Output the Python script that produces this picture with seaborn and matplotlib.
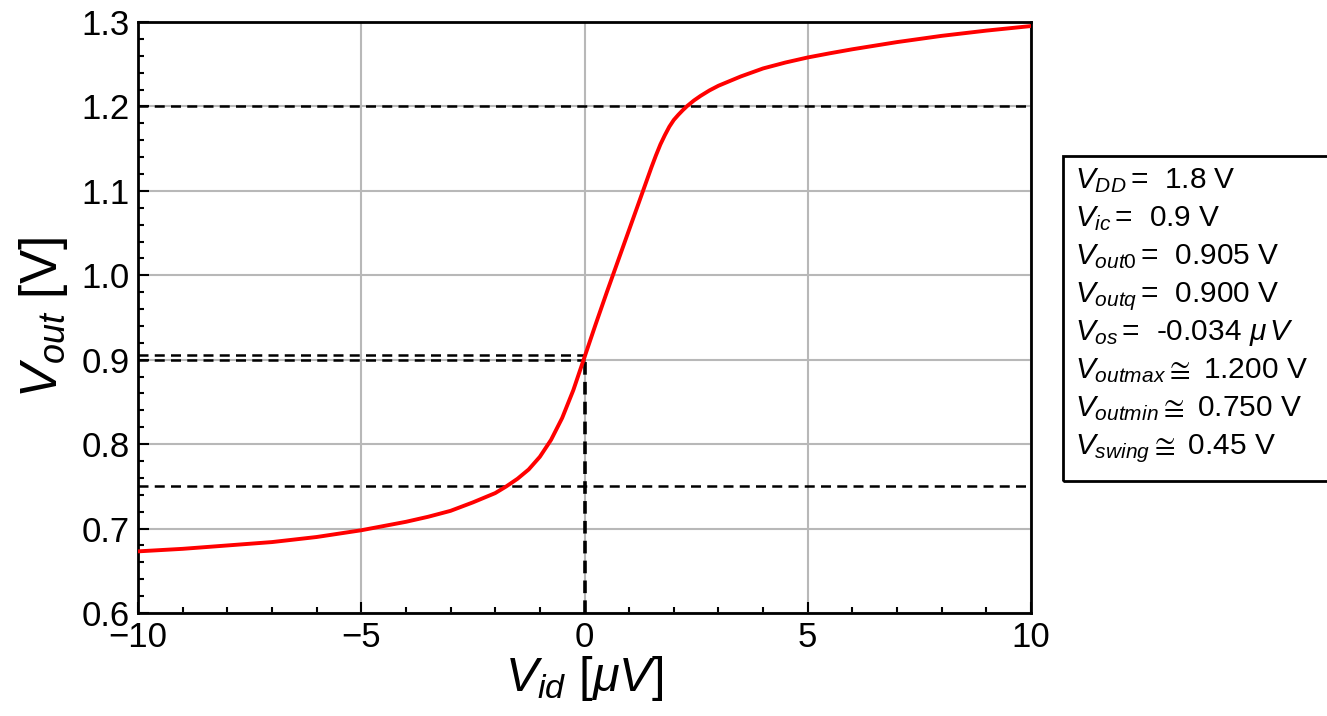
import matplotlib
matplotlib.use("Agg")
import matplotlib.pyplot as plt
import seaborn as sns
import pandas as pd
from matplotlib.patches import Rectangle

# data
vid = [-10, -9, -8, -7, -6, -5, -4.5, -4, -3.5, -3, -2.5, -2, -1.75, -1.5, -1.25,
       -1.0, -0.75, -0.5, -0.25, 0, 0.25, 0.5, 0.75, 1.0, 1.25, 1.5, 1.6, 1.7, 1.8,
       1.9, 2.0, 2.1, 2.2, 2.3, 2.45, 2.6, 2.8, 3.0, 3.5, 4.0, 4.5, 5.0, 5.5, 6, 7,
       8, 9, 10]
vout = [0.673, 0.676, 0.680, 0.684, 0.690, 0.698, 0.703, 0.708, 0.714, 0.721, 0.731,
        0.742, 0.750, 0.759, 0.770, 0.785, 0.805, 0.831, 0.864, 0.903, 0.942, 0.980,
        1.017, 1.054, 1.091, 1.128, 1.142, 1.155, 1.166, 1.176, 1.184, 1.190, 1.1955,
        1.2005, 1.207, 1.2125, 1.219, 1.2245, 1.2355, 1.2450, 1.2520, 1.2580, 1.2630,
        1.2677, 1.2762, 1.2836, 1.2898, 1.2952]
h_levels = [1.2, 0.75]
vout0 = 0.905
voutq = 0.900
info_lines = [
    r"$V_{DD}\,$=  1.8 V",
    r"$V_{ic}\,$=  0.9 V",
    r"$V_{out0}\,$=  0.905 V",
    r"$V_{outq}\,$=  0.900 V",
    r"$V_{os}\,$=  -0.034 $\mu\,V$",
    r"$V_{outmax}\cong$ 1.200 V",
    r"$V_{outmin}\cong$ 0.750 V",
    r"$V_{swing}\cong$ 0.45 V",
]

sns.set_style("ticks")
plt.rcParams["font.family"] = ["Liberation Sans", "DejaVu Sans"]
plt.rcParams["mathtext.fontset"] = "custom"
plt.rcParams["mathtext.rm"] = "Liberation Sans"
plt.rcParams["mathtext.it"] = "Liberation Sans:italic"
plt.rcParams["mathtext.bf"] = "Liberation Sans:bold"
plt.rcParams["axes.unicode_minus"] = True
plt.rcParams["text.color"] = "black"
plt.rcParams["axes.labelcolor"] = "black"

W, H = 1327, 716
fig = plt.figure(figsize=(W / 100, H / 100), dpi=100)
ax = fig.add_axes([138 / W, 1 - 613 / H, (1031 - 138) / W, (613 - 22) / H])

df = pd.DataFrame({"vid": vid, "vout": vout})
ax.grid(True, color="#b8b8b8", lw=1.5, zorder=0)
for lv in h_levels:
    ax.axhline(lv, color="black", ls=(0, (4, 2.5)), lw=1.8, zorder=2)
ax.plot([-10, 0], [vout0, vout0], color="black", ls=(0, (4, 2.5)), lw=1.8, zorder=2)
ax.plot([-10, 0], [voutq, voutq], color="black", ls=(0, (4, 2.5)), lw=1.8, zorder=2)
ax.plot([0, 0], [0.6, vout0], color="black", ls=(0, (3.5, 2)), lw=2.6, zorder=2)
sns.lineplot(data=df, x="vid", y="vout", color="red", lw=2.8, ax=ax, zorder=3)

ax.set_xlim(-10, 10)
ax.set_ylim(0.6, 1.3)
ax.set_xticks([-10, -5, 0, 5, 10])
ax.set_yticks([0.6, 0.7, 0.8, 0.9, 1.0, 1.1, 1.2, 1.3])
ax.set_xticks(range(-10, 11), minor=True)
ax.set_yticks([0.6 + 0.02 * i for i in range(36)], minor=True)
ax.set_yticklabels(["0.6", "0.7", "0.8", "0.9", "1.0", "1.1", "1.2", "1.3"])
ax.tick_params(which="both", direction="in", top=False, right=False, width=1.5,
               labelsize=25, colors="black", pad=6)
ax.tick_params(which="major", length=8)
ax.tick_params(which="minor", length=4)
for s in ax.spines.values():
    s.set_linewidth(2)
    s.set_color("black")

ax.set_xlabel(r"$V_{id}$ [$\mu V$]", fontsize=35, labelpad=0)
ax.set_ylabel(r"$V_{out}$ [V]", fontsize=37, labelpad=8)

# info box
fig.patches.append(Rectangle((1063 / W, 1 - 481 / H), (1340 - 1063) / W, (481 - 156) / H,
                             transform=fig.transFigure, fill=False, ec="black", lw=2))
for i, t in enumerate(info_lines):
    yb = 188 + 38.0 * i
    fig.text(1075 / W, 1 - yb / H, t, fontsize=21.5, va="baseline", ha="left",
             color="black")

fig.savefig("out.png", dpi=100)
